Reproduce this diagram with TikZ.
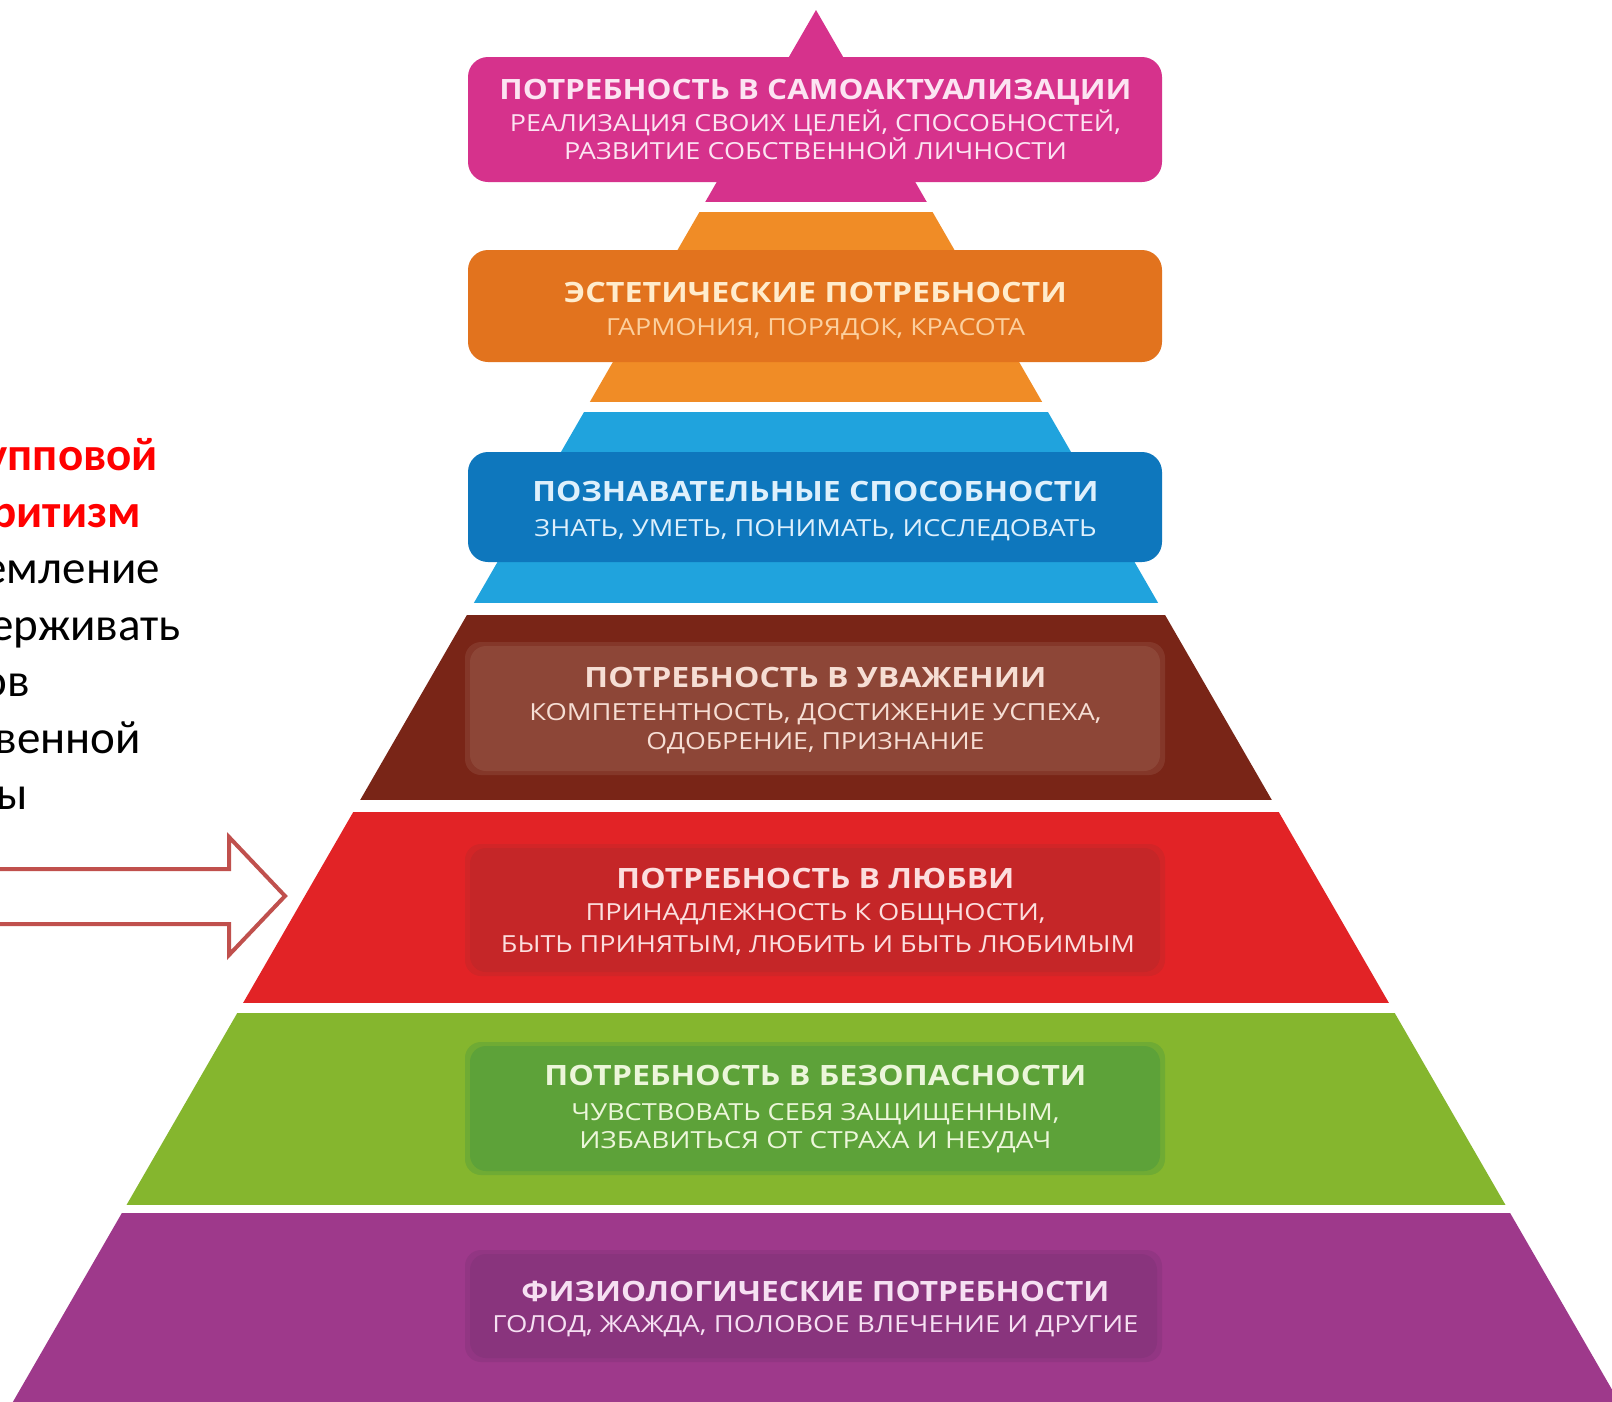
\documentclass[tikz,border=0pt]{standalone}
\usepackage{fontspec}
\usepackage{graphicx}
\setmainfont{Open Sans}
\newfontfamily\carlito{Carlito}
\definecolor{cPink}{RGB}{214,50,140}
\definecolor{cOrangeB}{RGB}{240,140,38}
\definecolor{cOrangeX}{RGB}{226,115,30}
\definecolor{cBlueB}{RGB}{32,163,221}
\definecolor{cBlueX}{RGB}{14,119,189}
\definecolor{cBrownB}{RGB}{121,37,23}
\definecolor{cBrownX}{RGB}{141,70,55}
\definecolor{cRedB}{RGB}{226,35,38}
\definecolor{cRedX}{RGB}{197,38,40}
\definecolor{cGreenB}{RGB}{133,182,46}
\definecolor{cGreenX}{RGB}{93,162,57}
\definecolor{cPurpleB}{RGB}{158,57,139}
\definecolor{cPurpleX}{RGB}{137,52,125}
\definecolor{tPink}{RGB}{252,228,242}
\definecolor{tOrange}{RGB}{255,236,205}
\definecolor{tOrangeS}{RGB}{252,208,158}
\definecolor{tBlue}{RGB}{222,240,252}
\definecolor{tBrown}{RGB}{246,222,212}
\definecolor{tRed}{RGB}{252,222,222}
\definecolor{tGreen}{RGB}{236,246,218}
\definecolor{tPurple}{RGB}{246,224,242}
\definecolor{arrowRed}{RGB}{192,80,77}
\definecolor{slideRed}{RGB}{255,0,0}
\newcommand\pyrtitle[2]{\resizebox{#1pt}{\height}{\fontsize{28}{30}\selectfont\bfseries #2}}
\newcommand\pyrsub[2]{\resizebox{#1pt}{\height}{\fontsize{23.5}{25}\selectfont #2}}
\tikzset{
  lbl/.style={anchor=base, inner sep=0pt, outer sep=0pt},
  slidetext/.style={anchor=base east, inner sep=0pt, outer sep=0pt, font=\carlito\fontsize{47}{56}\selectfont},
  slidebold/.style={slidetext, text=slideRed, font=\carlito\bfseries\fontsize{47}{56}\selectfont},
  labelbox/.style={rounded corners=20pt},
  innerbox/.style={rounded corners=16pt}
}
\begin{document}
\begin{tikzpicture}[x=1pt,y=-1pt]
\useasboundingbox (0,0) rectangle (1612,1401);
\fill[white] (0,0) rectangle (1612,1401);
\begin{scope}
\clip (0,0) rectangle (1612,1401);
% pyramid bands
\begin{scope}
\clip (816,10) -- (1641.1,1440) -- (-9.1,1440) -- cycle;
\fill[cPink] (0,0) rectangle (1612,202);
\fill[cOrangeB] (0,212) rectangle (1612,402);
\fill[cBlueB] (0,412) rectangle (1612,603);
\fill[cBrownB] (0,615) rectangle (1612,800);
\fill[cRedB] (0,812) rectangle (1612,1003);
\fill[cGreenB] (0,1013) rectangle (1612,1205);
\fill[cPurpleB] (0,1213) rectangle (1612,1440);
\end{scope}
% label boxes
\fill[cPink, labelbox] (468,57) rectangle (1162,182);
\fill[cOrangeX, labelbox] (468,250) rectangle (1162,362);
\fill[cBlueX, labelbox] (468,452) rectangle (1162,562);
% inner boxes with soft edges
\fill[cBrownX!55!cBrownB, innerbox] (465,642) rectangle (1165,775);
\fill[cBrownX, innerbox] (470,646) rectangle (1160,771);
\fill[cRedX!55!cRedB, innerbox] (465,844) rectangle (1165,976);
\fill[cRedX, innerbox] (470,848) rectangle (1160,972);
\fill[cGreenX!55!cGreenB, innerbox] (465,1042) rectangle (1165,1175);
\fill[cGreenX, innerbox] (470,1046) rectangle (1160,1171);
\fill[cPurpleX!55!cPurpleB, innerbox] (465,1250) rectangle (1162,1362);
\fill[cPurpleX, innerbox] (470,1254) rectangle (1157,1358);
% texts
\node[lbl, text=tPink] (p1) at (815.5,99) {\pyrtitle{632}{ПОТРЕБНОСТЬ В САМОАКТУАЛИЗАЦИИ}};
\node[lbl, text=tPink] (p2) at (815.5,131) {\pyrsub{611}{РЕАЛИЗАЦИЯ СВОИХ ЦЕЛЕЙ, СПОСОБНОСТЕЙ,}};
\node[lbl, text=tPink] (p3) at (815.5,159) {\pyrsub{503}{РАЗВИТИЕ СОБСТВЕННОЙ ЛИЧНОСТИ}};
\node[lbl, text=tOrange] (o1) at (815.5,302.7) {\pyrtitle{503}{ЭСТЕТИЧЕСКИЕ ПОТРЕБНОСТИ}};
\node[lbl, text=tOrangeS] (o2) at (815.5,335.3) {\pyrsub{419}{ГАРМОНИЯ, ПОРЯДОК, КРАСОТА}};
\node[lbl, text=tBlue] (b1) at (815.5,501) {\pyrtitle{566}{ПОЗНАВАТЕЛЬНЫЕ СПОСОБНОСТИ}};
\node[lbl, text=tBlue] (b2) at (815.5,536) {\pyrsub{562}{ЗНАТЬ, УМЕТЬ, ПОНИМАТЬ, ИССЛЕДОВАТЬ}};
\node[lbl, text=tBrown] (w1) at (815.5,687.7) {\pyrtitle{462}{ПОТРЕБНОСТЬ В УВАЖЕНИИ}};
\node[lbl, text=tBrown] (w2) at (815.5,720) {\pyrsub{572}{КОМПЕТЕНТНОСТЬ, ДОСТИЖЕНИЕ УСПЕХА,}};
\node[lbl, text=tBrown] (w3) at (815.5,749) {\pyrsub{338}{ОДОБРЕНИЕ, ПРИЗНАНИЕ}};
\node[lbl, text=tRed] (r1) at (815.5,888.5) {\pyrtitle{398}{ПОТРЕБНОСТЬ В ЛЮБВИ}};
\node[lbl, text=tRed] (r2) at (815.5,920.3) {\pyrsub{460}{ПРИНАДЛЕЖНОСТЬ К ОБЩНОСТИ,}};
\node[lbl, text=tRed] (r3) at (818,952) {\pyrsub{634}{БЫТЬ ПРИНЯТЫМ, ЛЮБИТЬ И БЫТЬ ЛЮБИМЫМ}};
\node[lbl, text=tGreen] (g1) at (815.5,1085.5) {\pyrtitle{542}{ПОТРЕБНОСТЬ В БЕЗОПАСНОСТИ}};
\node[lbl, text=tGreen] (g2) at (815.5,1120) {\pyrsub{488}{ЧУВСТВОВАТЬ СЕБЯ ЗАЩИЩЕННЫМ,}};
\node[lbl, text=tGreen] (g3) at (815.5,1148.5) {\pyrsub{472}{ИЗБАВИТЬСЯ ОТ СТРАХА И НЕУДАЧ}};
\node[lbl, text=tPurple] (f1) at (815.5,1301.7) {\pyrtitle{588}{ФИЗИОЛОГИЧЕСКИЕ ПОТРЕБНОСТИ}};
\node[lbl, text=tPurple] (f2) at (815.5,1332) {\pyrsub{646}{ГОЛОД, ЖАЖДА, ПОЛОВОЕ ВЛЕЧЕНИЕ И ДРУГИЕ}};
% slide text cut at the left edge
\node[slidebold] (s1) at (158,470) {упповой};
\node[slidebold] (s2) at (141,527) {оритизм};
\node[slidetext] (s3) at (160,583) {емление};
\node[slidetext] (s4) at (181,640) {ерживать};
\node[slidetext] (s5) at (30,696) {ов};
\node[slidetext] (s6) at (141,753) {венной};
\node[slidetext] (s7) at (28,809) {ы};
% block arrow
\draw[arrowRed, line width=4pt, fill=white, line join=miter]
  (-10,869) -- (229,869) -- (229,837) -- (285,896) -- (229,955) -- (229,924) -- (-10,924) -- cycle;
\end{scope}
\end{tikzpicture}
\end{document}
